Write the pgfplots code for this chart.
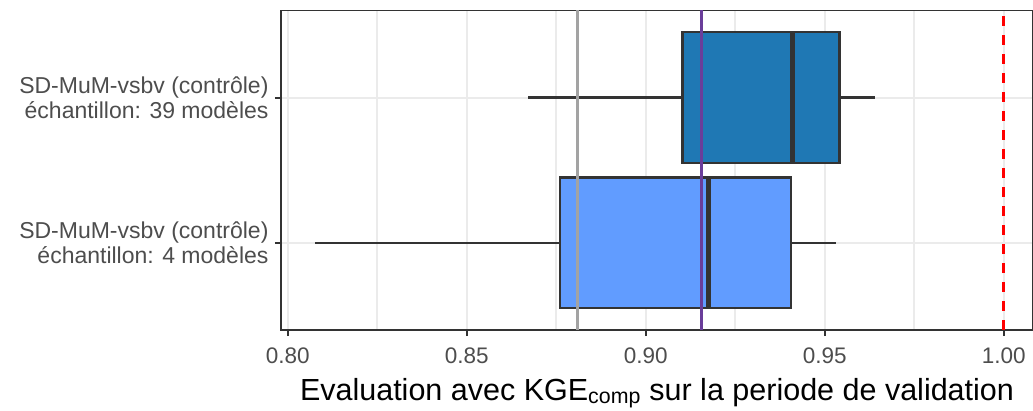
\documentclass[border=0pt]{standalone}
\usepackage{fontspec}
\setmainfont{Liberation Sans}
\usepackage{pgfplots}
\pgfplotsset{compat=1.18}
\usepgfplotslibrary{statistics}
\definecolor{boxA}{HTML}{1F78B4}
\definecolor{boxB}{HTML}{619CFF}
\definecolor{gridc}{HTML}{EBEBEB}
\definecolor{gtwenty}{HTML}{333333}
\definecolor{gthirty}{HTML}{4D4D4D}
\definecolor{vgray}{HTML}{A3A3A3}
\definecolor{vpurple}{HTML}{6A3D9A}
\begin{document}
\begin{tikzpicture}
\useasboundingbox (0,0) rectangle (1033pt,410pt);
\begin{axis}[
  at={(281pt,80pt)}, anchor=south west,
  width=752pt, height=319.5pt, scale only axis,
  xmin=0.79813, xmax=1.0082, ymin=0.4, ymax=2.6,
  axis line style={draw=gtwenty, line width=1.8pt},
  xtick={0.80,0.85,0.90,0.95,1.00},
  minor xtick={0.825,0.875,0.925,0.975},
  ytick={1,2},
  yticklabels={{SD-MuM-vsbv (contrôle)\\échantillon: 4 modèles},{SD-MuM-vsbv (contrôle)\\échantillon: 39 modèles}},
  xtick pos=bottom, ytick pos=left,
  tick align=outside,
  major tick length=6pt, minor tick length=0pt,
  major tick style={draw=gtwenty, line width=2pt},
  grid=both,
  major grid style={draw=gridc, line width=2.2pt},
  minor grid style={draw=gridc, line width=1.4pt},
  /pgf/number format/assume math mode=true,
  /pgf/number format/.cd, fixed, fixed zerofill, precision=2, /pgfplots/.cd,
  xticklabel style={font=\fontsize{22.5}{25}\selectfont, text=gthirty, yshift=-8pt},
  yticklabel style={font=\fontsize{23}{25}\selectfont, text=gthirty, align=right, xshift=-3pt},
  xlabel={Evaluation avec KGE\textsubscript{comp} sur la periode de validation},
  xlabel style={font=\fontsize{30.5}{34}\selectfont, text=black, at={(axis description cs:0.5,0)}, anchor=base, yshift=-70pt},
  boxplot/draw direction=x,
  boxplot/every median/.style={line width=5pt},
  boxplot/every whisker/.style={line width=2.4pt},
  boxplot/every box/.style={line width=2.4pt},
]
\addplot[boxplot prepared={lower whisker=0.8076, lower quartile=0.8761, median=0.9175, upper quartile=0.9406, upper whisker=0.9532, draw position=1, box extend=0.9, whisker extend=0}, draw=gtwenty, fill=boxB, line width=2.4pt] coordinates {};
\addplot[boxplot prepared={lower whisker=0.8672, lower quartile=0.9103, median=0.9410, upper quartile=0.9541, upper whisker=0.9640, draw position=2, box extend=0.9, whisker extend=0}, draw=gtwenty, fill=boxA, line width=2.4pt] coordinates {};
\addplot[vgray, line width=3pt] coordinates {(0.8809,0.4) (0.8809,2.6)};
\addplot[vpurple, line width=3pt] coordinates {(0.9157,0.4) (0.9157,2.6)};
\addplot[red, line width=3pt, dash pattern=on 10pt off 9pt] coordinates {(1.0,0.4) (1.0,2.6)};
\end{axis}
\end{tikzpicture}
\end{document}
